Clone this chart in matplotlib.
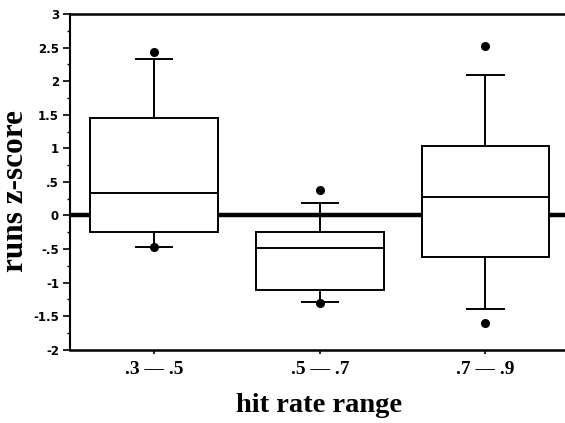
import matplotlib
matplotlib.use("Agg")
import matplotlib.pyplot as plt
from matplotlib.ticker import MultipleLocator, FixedLocator

# box statistics
categories = [".3 \u2014 .5", ".5 \u2014 .7", ".7 \u2014 .9"]
q1 = [-0.25, -1.11, -0.62]
med = [0.33, -0.49, 0.27]
q3 = [1.45, -0.25, 1.04]
whislo = [-0.47, -1.29, -1.39]
whishi = [2.33, 0.19, 2.09]
fliers = [[2.43, -0.47], [0.38, -1.30], [2.53, -1.60]]

yticks = [3, 2.5, 2, 1.5, 1, 0.5, 0, -0.5, -1, -1.5, -2]
ytick_labels = ["3", "2.5", "2", "1.5", "1", ".5", "0", "-.5", "-1", "-1.5", "-2"]

plt.rcParams["font.family"] = ["Liberation Serif", "DejaVu Serif"]
plt.rcParams["font.weight"] = "bold"

fig = plt.figure(figsize=(5.65, 4.23), dpi=100)
ax = fig.add_axes([0.124, 0.173, 0.876, 0.794])

stats = []
for i in range(len(categories)):
    stats.append({
        "q1": q1[i], "med": med[i], "q3": q3[i],
        "whislo": whislo[i], "whishi": whishi[i],
        "fliers": fliers[i], "label": categories[i],
    })

positions = [1, 2, 3]
ax.axhline(0, color="black", linewidth=3.2, zorder=1)
ax.bxp(stats, positions=positions, widths=0.77, capwidths=0.22,
       patch_artist=True, showfliers=True,
       boxprops=dict(facecolor="white", edgecolor="black", linewidth=1.4),
       medianprops=dict(color="black", linewidth=1.4),
       whiskerprops=dict(color="black", linewidth=1.4),
       capprops=dict(color="black", linewidth=1.4),
       flierprops=dict(marker="o", markerfacecolor="black", markeredgecolor="black",
                       markersize=5.5),
       zorder=2)

ax.set_xlim(0.492, 3.48)
ax.set_ylim(-2, 3)
ax.yaxis.set_major_locator(FixedLocator(yticks))
ax.set_yticklabels(ytick_labels, fontfamily="DejaVu Sans", fontweight="bold", fontsize=8.5)
ax.yaxis.set_minor_locator(MultipleLocator(0.25))
ax.set_xticks(positions)
ax.set_xticklabels(categories, fontsize=14, fontweight="bold")

ax.tick_params(axis="y", which="major", length=5, width=1.2, pad=3)
ax.tick_params(axis="y", which="minor", length=2.5, width=1.0)
ax.tick_params(axis="x", length=3, width=1.2, pad=5)

ax.spines["right"].set_visible(False)
for side in ["top", "bottom"]:
    ax.spines[side].set_linewidth(1.8)
ax.spines["left"].set_linewidth(1.5)

ax.set_xlabel("hit rate range", fontsize=20.5, fontweight="bold")
ax.xaxis.set_label_coords(0.503, -0.128)
ax.set_ylabel("runs z-score", fontsize=22.5, fontweight="bold")
ax.yaxis.set_label_coords(-0.081, 0.472)

fig.savefig("out.png", dpi=100)
